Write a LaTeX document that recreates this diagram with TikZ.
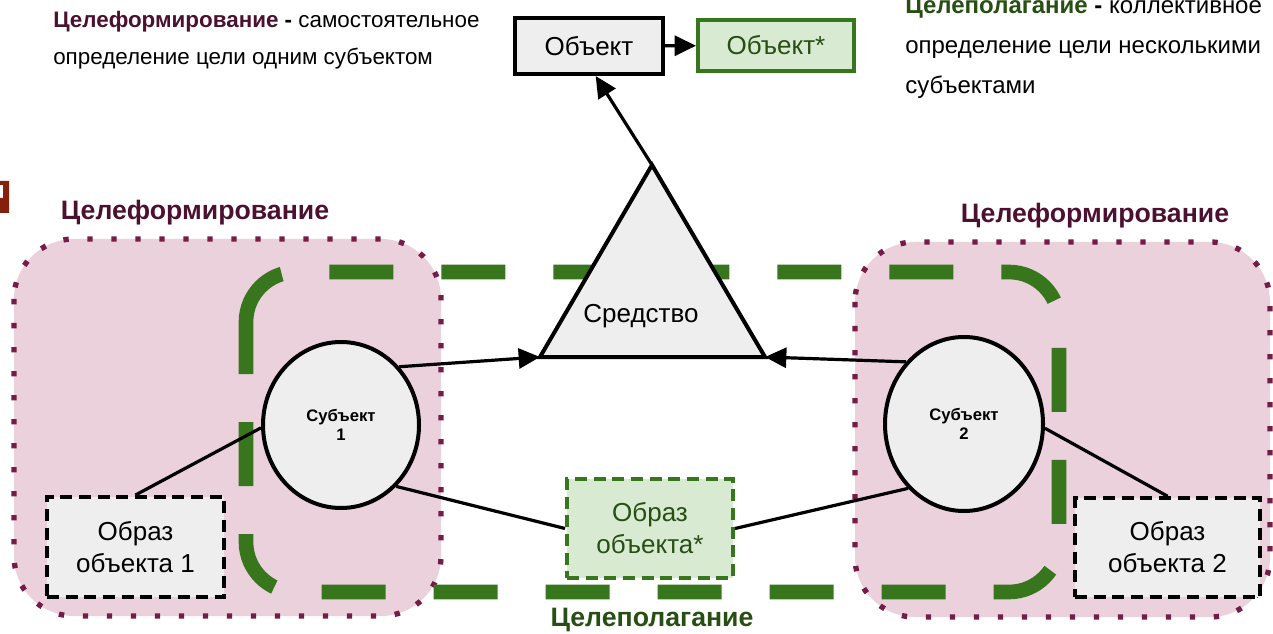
\documentclass[tikz,border=0pt]{standalone}
\usepackage{fontspec}
\setmainfont{Liberation Sans}
\usetikzlibrary{arrows.meta,shapes.geometric}

\definecolor{zonefill}{HTML}{EAD1DC}
\definecolor{zonedot}{HTML}{741B47}
\definecolor{zonetext}{HTML}{4C1130}
\definecolor{goalgreen}{HTML}{38761D}
\definecolor{goaltext}{HTML}{274E13}
\definecolor{boxgray}{HTML}{EEEEEE}
\definecolor{boxgreen}{HTML}{D9EAD3}
\definecolor{cutred}{HTML}{85200C}

\begin{document}
\begin{tikzpicture}[x=0.75pt, y=-0.75pt,
    zone/.style={fill=zonefill, draw=zonedot, line width=4pt, dash pattern=on 4pt off 14pt, rounded corners=45pt},
    goalframe/.style={draw=goalgreen, line width=11pt, dash pattern=on 48pt off 36pt, rounded corners=37.5pt},
    objbox/.style={draw, line width=3pt, fill=boxgray, font=\fontsize{19.5}{23.5}\selectfont},
    starbox/.style={draw=goalgreen, line width=3pt, fill=boxgreen, text=goaltext, font=\fontsize{19.5}{23.5}\selectfont},
    imgbox/.style={draw, line width=3pt, dash pattern=on 9pt off 5pt, fill=boxgray, align=center, font=\fontsize{19.5}{24}\selectfont},
    subj/.style={ellipse, draw, line width=3pt, fill=boxgray, align=center, inner sep=0pt, font=\bfseries\fontsize{12.5}{14.5}\selectfont},
    link/.style={line width=2.4pt},
    arrow/.style={link, -{Triangle[length=16pt, width=15pt]}},
    zonelabel/.style={font=\bfseries\fontsize{20}{24}\selectfont, text=zonetext},
    note/.style={align=left, anchor=north west, inner sep=0pt}
]
\useasboundingbox (0,0) rectangle (1273,634);

% zones
\draw[zone] (14,239) rectangle (441,616);
\draw[zone] (855,242) rectangle (1270,617);
\draw[goalframe] (246,322) -- (246,272) -- (1059,272) -- (1059,592) -- (246,592) -- (246,322);

\fill[cutred] (0,181) -- (9,181) -- (9,213) -- (0,213) -- (0,198) -- (3,198) -- (3,185) -- (0,185) -- cycle;

% texts
\node[note, font=\fontsize{16.8}{28}\selectfont] (defform) at (53,11) {\textcolor{zonetext}{\textbf{Целеформирование}} \textbf{-} самостоятельное\\определение цели одним субъектом};
\node[note, font=\fontsize{18}{30}\selectfont] (defgoal) at (905,-3) {\textcolor{goaltext}{\textbf{Целеполагание}} \textbf{-} коллективное\\определение цели несколькими\\субъектами};
\node[zonelabel] (formleft) at (195,213) {Целеформирование};
\node[zonelabel] (formright) at (1095,216) {Целеформирование};
\node[zonelabel, text=goaltext] (goallabel) at (652,620) {Целеполагание};

% means
\coordinate (tri-top) at (652,165);
\coordinate (tri-l) at (540,357);
\coordinate (tri-r) at (765,357);
\draw[link, line width=3pt, fill=boxgray] (tri-top) -- (tri-r) -- (tri-l) -- cycle;
\node[font=\fontsize{19.5}{23}\selectfont] (means) at (641,316) {Средство};

% objects
\node[objbox, minimum width=111pt, minimum height=42pt] (obj) at (589,46) {Объект};
\node[starbox, minimum width=117pt, minimum height=38pt] (objstar) at (776,45.5) {Объект*};

% subjects and images
\node[subj, minimum width=117pt, minimum height=124.5pt] (subj1) at (341,425) {Субъект\\1};
\node[subj, minimum width=118.5pt, minimum height=130.5pt] (subj2) at (964,424) {Субъект\\2};
\node[imgbox, minimum width=133pt, minimum height=75pt] (img1) at (135.5,547) {Образ\\объекта 1};
\node[imgbox, minimum width=139pt, minimum height=74pt] (img2) at (1167.5,547.5) {Образ\\объекта 2};
\node[imgbox, draw=goalgreen, fill=boxgreen, text=goaltext, minimum width=124.5pt, minimum height=74pt] (imgstar) at (650,528.5) {Образ\\объекта*};

% links
\draw[arrow] (obj) -- (objstar);
\draw[arrow] (tri-top) -- ([xshift=5pt]obj.south);
\draw[arrow] (subj1.45) -- (tri-l);
\draw[arrow] (subj2.133) -- (tri-r);
\draw[link] (subj1.182) -- (img1.north);
\draw[link] (subj1.-48) -- (imgstar.west);
\draw[link] (subj2.229) -- (imgstar.east);
\draw[link] (subj2.-3) -- (img2.north);
\end{tikzpicture}
\end{document}
